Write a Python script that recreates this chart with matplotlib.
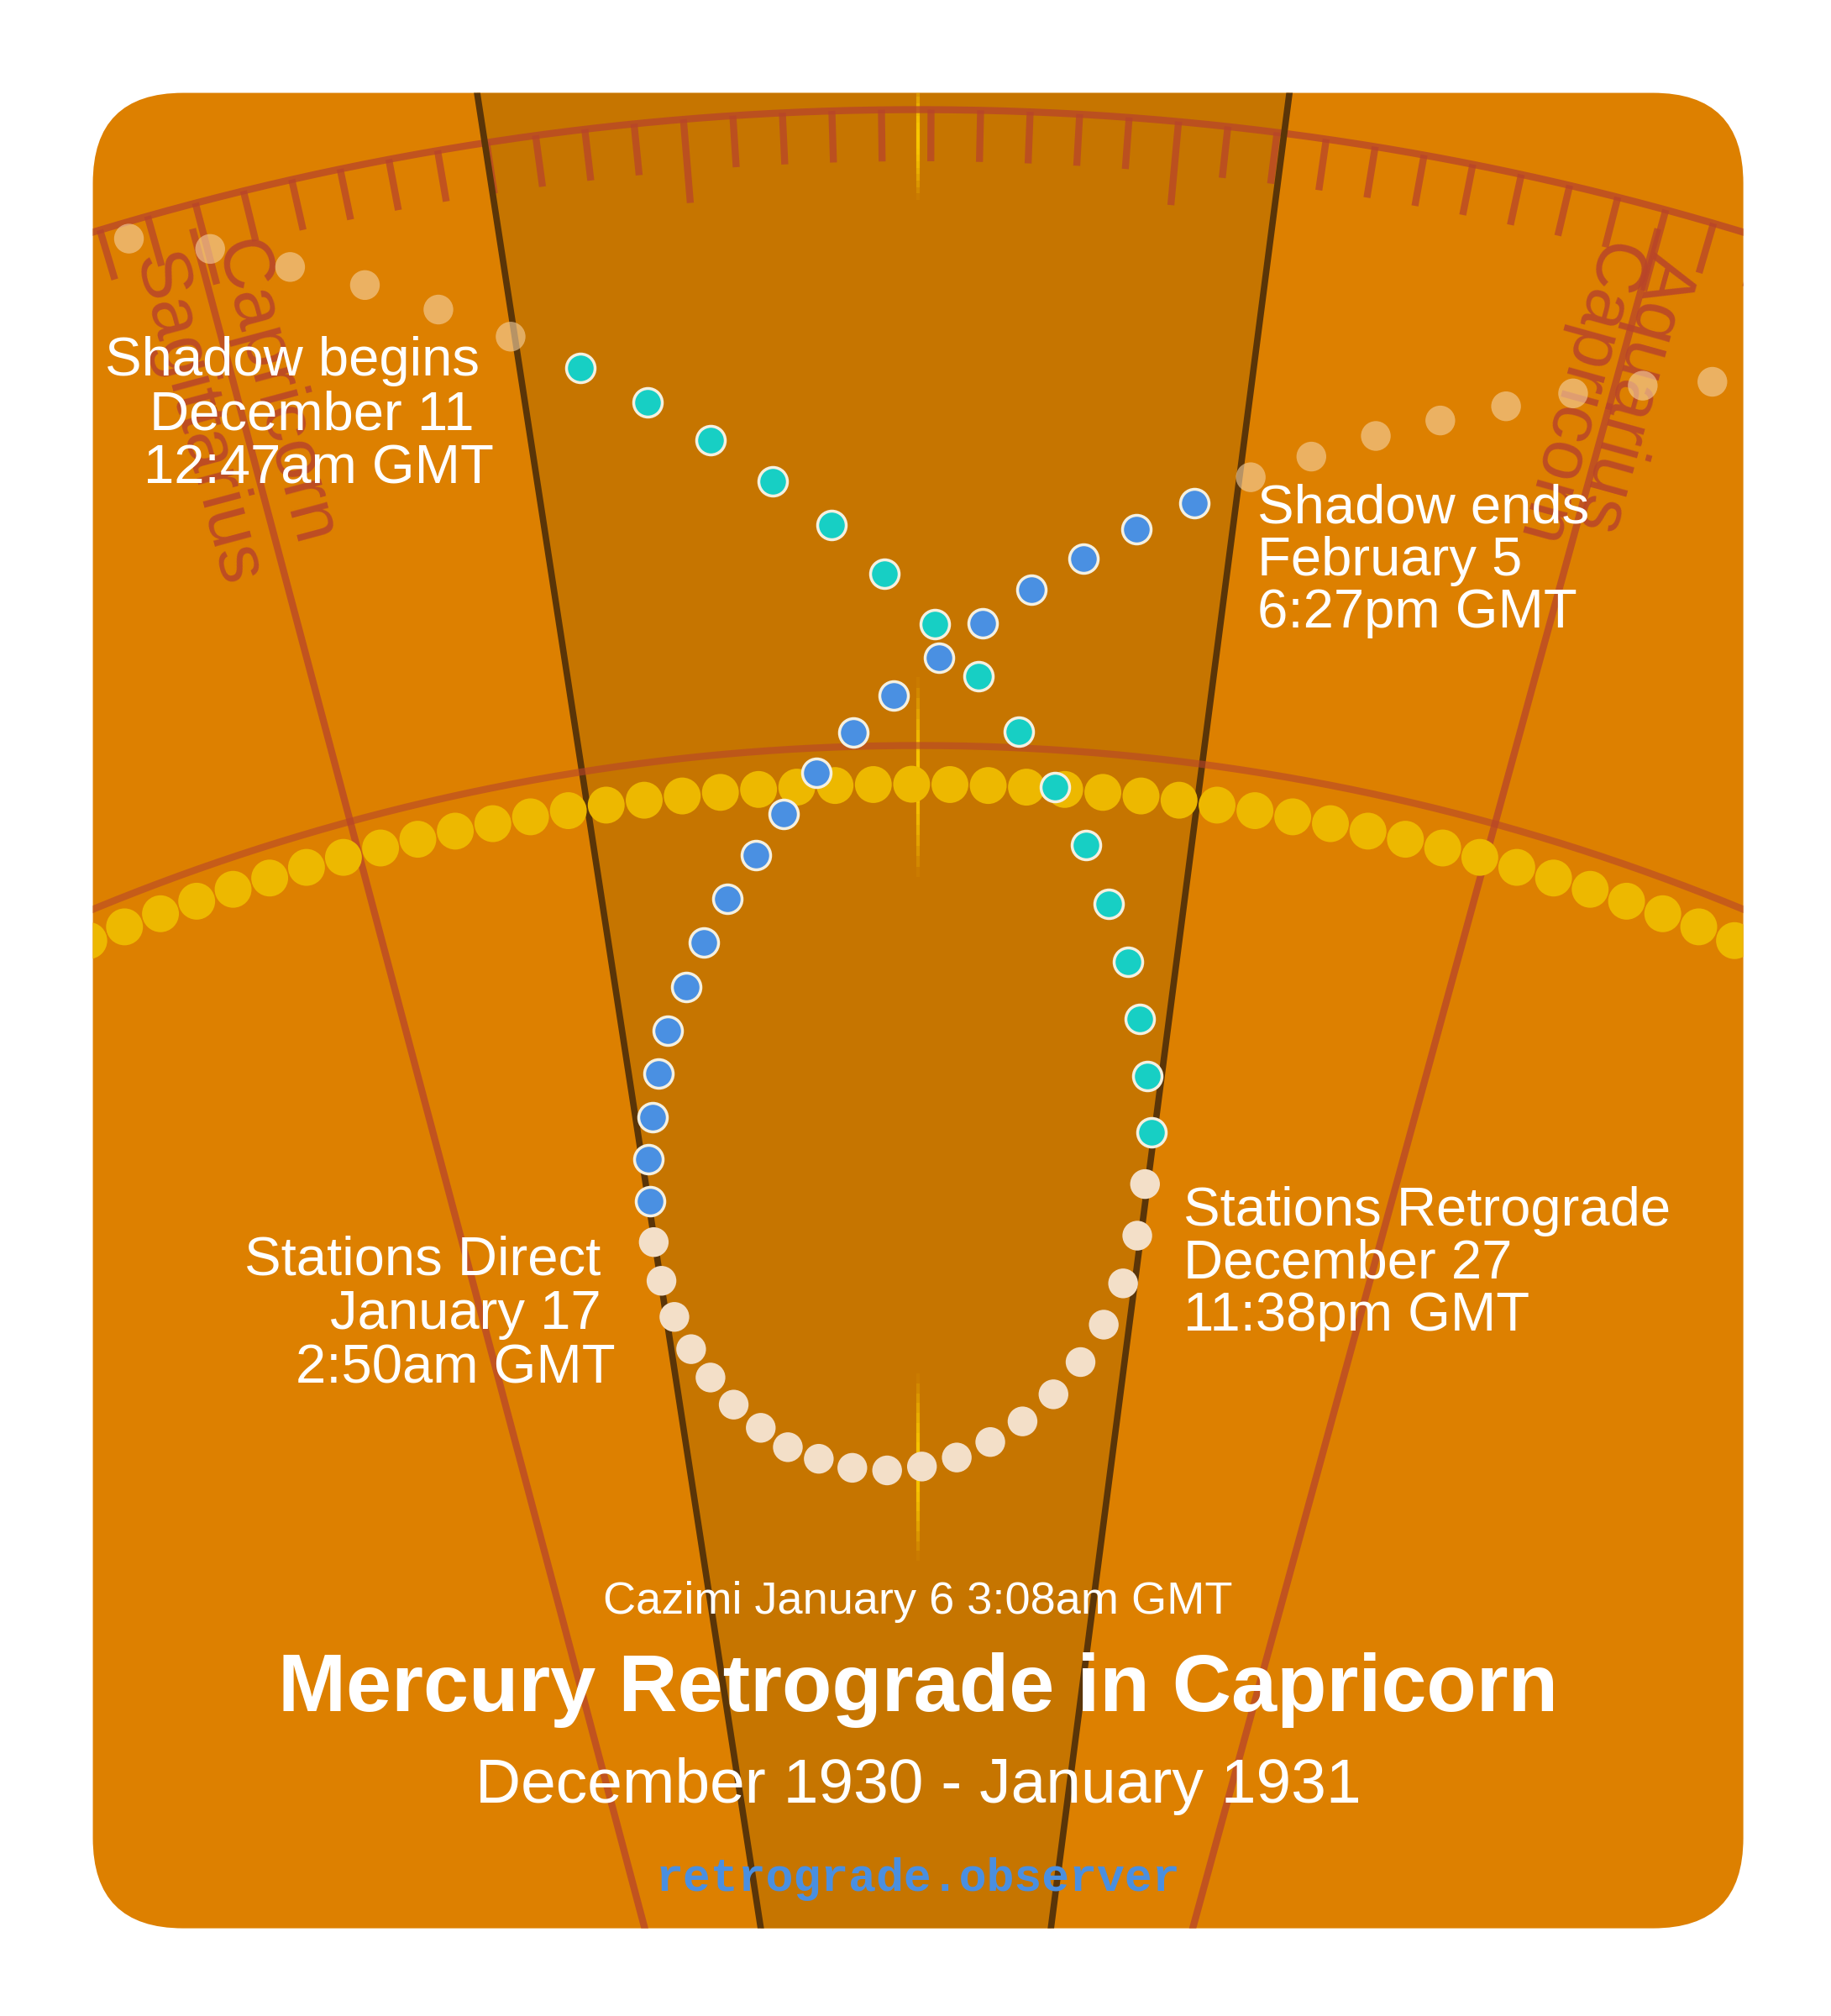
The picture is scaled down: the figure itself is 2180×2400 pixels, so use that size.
import numpy as np
import matplotlib.pyplot as plt
from matplotlib.patches import FancyBboxPatch, Polygon

# all coordinates in a 1420 x 1563 frame (scaled to 2180 x 2400 output)
W, H = 1420, 1563

cyan_x = [450, 502, 551, 599, 645, 686, 725, 759, 790, 818, 842, 860, 875, 884, 890, 893]
cyan_y = [285, 312, 341, 373, 407, 445, 484, 524, 567, 610, 655, 701, 746, 790, 834, 878]
retro_x = [888, 882, 871, 856, 838, 817, 793, 768, 742, 715, 688, 661, 635, 611, 590, 569, 551, 536, 523, 513, 507]
retro_y = [918, 958, 995, 1027, 1056, 1081, 1102, 1118, 1130, 1137, 1140, 1138, 1131, 1122, 1107, 1089, 1068, 1046, 1021, 993, 963]
blue_x = [504, 503, 506, 511, 518, 532, 546, 564, 586, 608, 633, 662, 693, 728, 762, 800, 840, 881, 926]
blue_y = [931, 899, 866, 832, 799, 765, 731, 697, 663, 631, 599, 568, 539, 510, 483, 457, 433, 410, 390]
faded_x = [100, 163, 225, 283, 340, 396, 970, 1017, 1067, 1117, 1168, 1220, 1274, 1328]
faded_y = [185, 193, 207, 221, 240, 261, 370, 354, 338, 326, 315, 305, 299, 296]

ORANGE = '#DD8000'
SHADE = '#C67500'
RED = '#B8442A'
FONT = 'Liberation Sans'

fig = plt.figure(figsize=(21.8, 24), dpi=100)
ax = fig.add_axes([0, 0, 1, 1])
ax.set_xlim(0, W)
ax.set_ylim(H, 0)
ax.axis('off')

card = FancyBboxPatch((72, 72), 1280, 1423, boxstyle='round,pad=0,rounding_size=70',
                      fc=ORANGE, ec='none', zorder=0)
ax.add_patch(card)
clipped = []

wedge = Polygon([(370, 72), (1000, 72), (815, 1495), (590, 1495)], closed=True,
                fc=SHADE, ec='none', zorder=1)
ax.add_patch(wedge)
clipped.append(wedge)

# sun line
for y0, y1 in [(60, 155), (525, 680), (1065, 1210)]:
    ys = np.linspace(y0, y1, 20)
    for i in range(len(ys) - 1):
        a = 0.9 * np.sin(np.pi * (i + 0.5) / (len(ys) - 1))
        clipped += ax.plot([712, 712], ys[i:i + 2], color='#FFD000', lw=3, alpha=a,
                           solid_capstyle='butt', zorder=2)

# outer ecliptic arc with ticks
cx, cy, R = 712, 2288, 2203
phi = np.linspace(-0.45, 0.45, 400)
clipped += ax.plot(cx + R * np.sin(phi), cy - R * np.cos(phi), color=RED, lw=6, alpha=0.75, zorder=3)
phi0 = np.arcsin((530 - cx) / R)
step = np.deg2rad(1.0)
for k in range(-25, 30):
    p = phi0 + k * step
    L = 65 if k % 10 == 0 else 40
    clipped += ax.plot([cx + R * np.sin(p), cx + (R - L) * np.sin(p)],
                       [cy - R * np.cos(p), cy - (R - L) * np.cos(p)],
                       color=RED, lw=6, alpha=0.75, solid_capstyle='butt', zorder=3)

# zodiac boundaries
clipped += ax.plot([150, 500], [180, 1495], color=RED, lw=6, alpha=0.75, zorder=3)
clipped += ax.plot([1285, 925], [180, 1495], color=RED, lw=6, alpha=0.75, zorder=3)
zkw = dict(color=RED, alpha=0.85, fontsize=62, family=FONT, zorder=3, ha='center', va='center',
           rotation_mode='anchor')
ax.text(212, 305, 'Capricorn', rotation=-75, **zkw)
ax.text(152, 325, 'Sagittarius', rotation=-75, **zkw)
ax.text(1222, 305, 'Capricorn', rotation=-105.5, **zkw)
ax.text(1267, 305, 'Aquarius', rotation=-105.5, **zkw)

# shadow boundary lines
clipped += ax.plot([370, 590], [72, 1495], color='#5A3508', lw=5.5, zorder=3)
clipped += ax.plot([1000, 815], [72, 1495], color='#5A3508', lw=5.5, zorder=3)

# inner arc and sun dots
cx2, cy2, R2 = 712, 2254, 1676
phi = np.linspace(-0.5, 0.5, 400)
clipped += ax.plot(cx2 + R2 * np.sin(phi), cy2 - R2 * np.cos(phi), color=RED, lw=6, alpha=0.6, zorder=3)
cx3, cy3, R3 = 707, 2348, 1740
ang = np.arange(-24, 25) * (29.7 / R3)
clipped.append(ax.scatter(cx3 + R3 * np.sin(ang), cy3 - R3 * np.cos(ang), s=1000,
                          color='#EDB800', ec='none', zorder=4))

# mercury path
clipped.append(ax.scatter(faded_x, faded_y, s=650, color='#F6D3A5', alpha=0.6, ec='none', zorder=5))
ax.scatter(retro_x, retro_y, s=650, color='#F3DFC8', ec='none', zorder=6)
ax.scatter(cyan_x, cyan_y, s=600, color='#17CFC4', ec='#F5F0E0', lw=2.5, zorder=6)
ax.scatter(blue_x, blue_y, s=600, color='#4A90E2', ec='#F5F0E0', lw=2.5, zorder=6)

for a in clipped:
    a.set_clip_path(card)

tkw = dict(color='white', fontsize=47, family=FONT, zorder=8, linespacing=1.05)
lkw = dict(color='white', fontsize=47, family=FONT, zorder=8, ha='right', va='center')
for txt, xr, yc in [('Shadow begins', 372, 280), ('December 11', 368, 322), ('12:47am GMT', 383, 364),
                    ('Stations Direct', 466, 977), ('January 17', 466, 1019), ('2:50am GMT', 477, 1061)]:
    ax.text(xr, yc, txt, **lkw)
ax.text(975, 435, 'Shadow ends\nFebruary 5\n6:27pm GMT', ha='left', va='center', multialignment='left', **tkw)
ax.text(918, 980, 'Stations Retrograde\nDecember 27\n11:38pm GMT', ha='left', va='center', multialignment='left', **tkw)

ax.text(712, 1242, 'Cazimi January 6 3:08am GMT', ha='center', va='center', color='white', fontsize=39, family=FONT, zorder=8)
ax.text(712, 1310, 'Mercury Retrograde in Capricorn', ha='center', va='center', color='white', fontsize=70,
        fontweight='bold', family=FONT, zorder=8)
ax.text(712, 1385, 'December 1930 - January 1931', ha='center', va='center', color='white', fontsize=54, family=FONT, zorder=8)
ax.text(712, 1457, 'retrograde.observer', ha='center', va='center', color='#4A8FE0', fontsize=39.5,
        fontweight='bold', family='Liberation Mono', zorder=8)

fig.savefig('out.png', dpi=100, facecolor='white')
